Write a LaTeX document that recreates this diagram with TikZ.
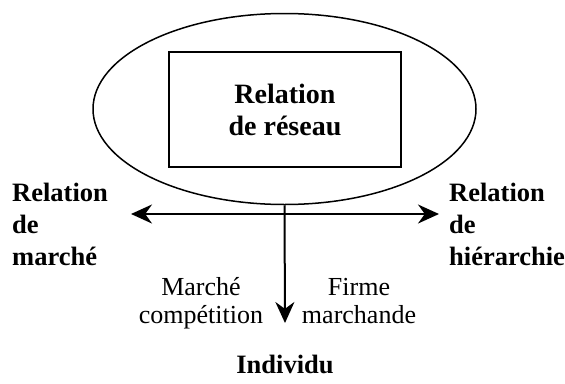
\documentclass[tikz,border=0pt]{standalone}
\usepackage{fontspec}
\setmainfont{Liberation Serif}
\usetikzlibrary{shapes,shapes.geometric,arrows,arrows.meta,calc,positioning}

\begin{document}
\begin{tikzpicture}[%
    >={Stealth[length=21pt,width=19pt]},
    x=1pt, y=-1pt,
    titre/.style={inner sep=0pt, align=left, font=\fontsize{26.5}{32}\selectfont\bfseries},
    sous/.style={inner sep=0pt, align=center, font=\fontsize{26}{28}\selectfont}
  ]
  \useasboundingbox (0,0) rectangle (565,383);

  \node[ellipse, draw, line width=1.5pt, inner sep=0pt,
        minimum width=383pt, minimum height=191pt] (reseau) at (284.5,109) {};
  \node[rectangle, draw, line width=1.5pt, minimum width=232pt, minimum height=115pt,
        align=center, font=\fontsize{28}{32}\selectfont\bfseries] (boite) at (285,109.5)
        {Relation\\de réseau};

  \coordinate (gauche) at (131,214);
  \coordinate (droite) at (439,214);
  \coordinate (bas) at (285,323);

  \draw[<->, line width=2pt] (gauche) -- (droite);
  \draw[->, line width=2pt] (reseau.south) -- (bas);

  % base = last line
  \node[titre, anchor=base west] (marche) at (12,265) {Relation\\de\\marché};
  \node[titre, anchor=base west] (hier) at (449,265) {Relation\\de\\hiérarchie};

  \node[sous, anchor=base] (compet) at (201,323) {Marché\\compétition};
  \node[sous, anchor=base] (firme) at (359,323) {Firme\\marchande};

  \node[font=\fontsize{26.5}{32}\selectfont\bfseries, inner sep=0pt, anchor=base]
        (indiv) at (285,373) {Individu};
\end{tikzpicture}
\end{document}
